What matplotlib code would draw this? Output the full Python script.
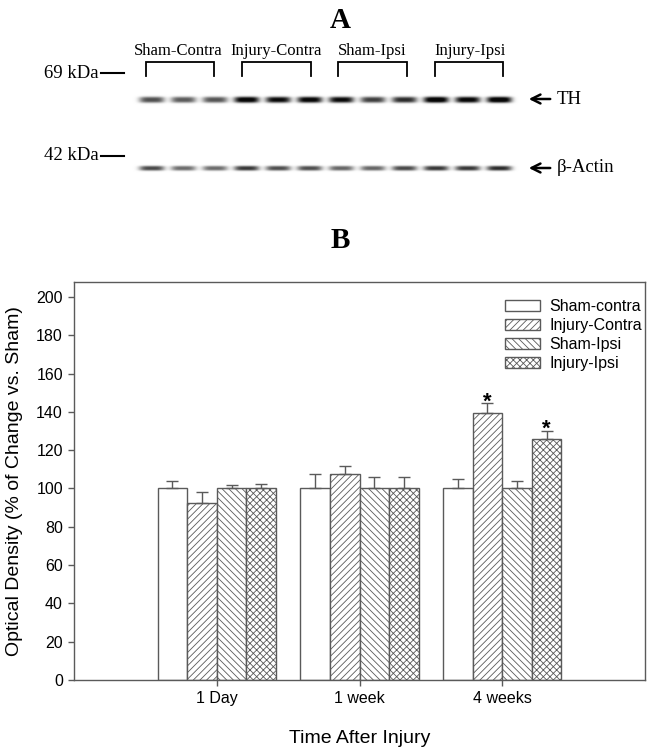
import numpy as np
import matplotlib
matplotlib.use("Agg")
import matplotlib.pyplot as plt

plt.rcParams['font.family'] = ['Liberation Sans', 'DejaVu Sans']
plt.rcParams['hatch.linewidth'] = 0.6
plt.rcParams['hatch.color'] = '#555555'

# ---------------- data ----------------
groups = ['1 Day', '1 week', '4 weeks']
series = ['Sham-contra', 'Injury-Contra', 'Sham-Ipsi', 'Injury-Ipsi']
sham_contra = [100.0, 100.0, 100.0]
injury_contra = [92.3, 107.6, 139.4]
sham_ipsi = [100.0, 100.0, 100.0]
injury_ipsi = [100.4, 100.4, 125.7]
sham_contra_err = [4.0, 7.6, 5.0]
injury_contra_err = [6.0, 4.0, 5.0]
sham_ipsi_err = [2.0, 5.8, 4.0]
injury_ipsi_err = [2.1, 5.4, 4.5]
significant = [[False, False, False], [False, False, True],
               [False, False, False], [False, False, True]]
hatches = ['', '/////', '\\\\\\\\\\', 'xxxxx']
yticks = list(range(0, 201, 20))

# Western blot (panel A)
lane_groups = ['Sham-Contra', 'Injury-Contra', 'Sham-Ipsi', 'Injury-Ipsi']
th_intensity = [0.62, 0.58, 0.60, 0.95, 0.88, 0.92, 0.88, 0.68, 0.75, 1.0, 0.92, 1.0]
actin_intensity = [0.62, 0.50, 0.50, 0.68, 0.60, 0.60, 0.52, 0.52, 0.62, 0.68, 0.68, 0.72]
markers = ['69 kDa', '42 kDa']
targets = ['TH', '\u03b2-Actin']

means = [sham_contra, injury_contra, sham_ipsi, injury_ipsi]
errs = [sham_contra_err, injury_contra_err, sham_ipsi_err, injury_ipsi_err]

W, H = 648, 750
fig = plt.figure(figsize=(W / 100, H / 100), dpi=100)

# ---------------- panel A (pixel-coordinate overlay) ----------------
axA = fig.add_axes([0, 0, 1, 1])
axA.axis('off')
axA.patch.set_alpha(0)

serif = ['Liberation Serif', 'DejaVu Serif']
axA.text(340, 20, 'A', family=serif, fontsize=21, fontweight='bold', ha='center', va='center')
axA.text(340, 241, 'B', family=serif, fontsize=21, fontweight='bold', ha='center', va='center')

lane_x = np.linspace(151.7, 499.0, len(th_intensity))
bracket_x = [(145.5, 213.6), (241.7, 311.0), (338.0, 407.0), (434.7, 503.0)]
label_x = [178, 276, 372, 470]
for (x0, x1), lx, name in zip(bracket_x, label_x, lane_groups):
    axA.plot([x0, x0, x1, x1], [76, 62, 62, 76], color='black', lw=1.3, solid_joinstyle='miter')
    axA.text(lx, 51, name, family=serif, fontsize=12, ha='center', va='center')

# blot image
xs = np.arange(125, 530, 0.5)
ys = np.arange(85, 185, 0.5)
X, Y = np.meshgrid(xs, ys)
dark = np.zeros_like(X)
for lx, ti, ai in zip(lane_x, th_intensity, actin_intensity):
    px = np.exp(-(np.abs(X - lx) / 12.5) ** 4)
    dark += 1.15 * ti * px * np.exp(-(np.abs(Y - 99.5) / 3.0) ** 3)
    dark += 1.2 * ai * px * np.exp(-(np.abs(Y - 168.0) / 2.4) ** 3)
img = 1 - np.clip(dark, 0, 1) * 0.97
axA.imshow(img, cmap='gray', vmin=0, vmax=1, extent=(125, 530, 185, 85),
           interpolation='bilinear', aspect='auto')
axA.set_xlim(0, W)
axA.set_ylim(H, 0)

for yy, m in zip([73, 156], markers):
    axA.text(99, yy, m, family=serif, fontsize=13.5, ha='right', va='center')
    axA.plot([101, 124], [yy, yy], color='black', lw=1.5)
for yy, t in zip([99, 168], targets):
    axA.annotate('', xy=(526, yy), xytext=(553, yy),
                 arrowprops=dict(arrowstyle='->', lw=1.8, color='black', mutation_scale=16))
    axA.text(557, yy, t, family=serif, fontsize=13.5, ha='left', va='center')

# ---------------- panel B ----------------
ax = fig.add_axes([74 / W, 70 / H, 571 / W, 398 / H])
x = np.arange(1, len(groups) + 1)
bw = 0.207
offsets = (np.arange(len(series)) - 1.5) * bw
gray = '#5a5a5a'
for i, s in enumerate(series):
    ax.bar(x + offsets[i], means[i], width=bw, color='white', edgecolor=gray,
           linewidth=1.0, hatch=hatches[i], label=s, zorder=2)
    ax.errorbar(x + offsets[i], means[i], yerr=[np.zeros(len(groups)), errs[i]],
                fmt='none', ecolor=gray, elinewidth=1.0, capsize=4.3, capthick=1.0, zorder=3)
    for j in range(len(groups)):
        if significant[i][j]:
            ax.text(x[j] + offsets[i], means[i][j] + errs[i][j] - 2.0, '*',
                    ha='center', va='baseline', fontsize=16, fontweight='bold')

ax.set_xlim(0, 4)
ax.set_ylim(0, 207.8)
ax.set_xticks(x)
ax.set_xticklabels(groups, fontsize=11.5)
ax.set_yticks(yticks)
ax.set_yticklabels([str(v) for v in yticks], fontsize=11.5)
ax.tick_params(axis='both', direction='out', length=4.5, width=1.0, color=gray, pad=3.5)
ax.tick_params(top=False, right=False)
for sp in ax.spines.values():
    sp.set_color(gray)
    sp.set_linewidth(1.0)
ax.set_ylabel('Optical Density (% of Change vs. Sham)', fontsize=14)
ax.yaxis.set_label_coords(-0.09, 0.5)
ax.set_xlabel('Time After Injury', fontsize=14)
ax.xaxis.set_label_coords(0.5, -0.125)

leg = ax.legend(loc='upper left', bbox_to_anchor=(497 / W, 1 - 291 / H),
                bbox_transform=fig.transFigure, frameon=False, fontsize=11.5,
                borderpad=0, handlelength=2.2, handleheight=0.75,
                handletextpad=0.6, labelspacing=0.25)

fig.savefig('out.png', dpi=100)
